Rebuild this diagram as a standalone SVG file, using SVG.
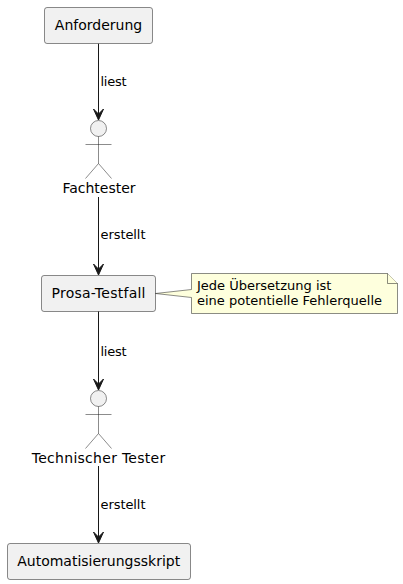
<svg xmlns="http://www.w3.org/2000/svg" width="403" height="584" viewBox="0 0 403 584">
<style>
text{font-family:"DejaVu Sans",sans-serif;fill:#000}
.n{font-size:14px;text-anchor:middle}
.l,.t{font-size:13px}
.box{fill:#F1F1F1;stroke:#181818;stroke-width:.5}
.act{fill:none;stroke:#181818;stroke-width:.5}
.edge{fill:none;stroke:#181818;stroke-width:1}
.note{fill:#FEFFDD;stroke:#181818;stroke-width:.5}
</style>
<defs>
<path id="ah" d="M0,0L5,-11L0,-6L-5,-11Z" fill="#181818" stroke="#181818"/>
</defs>
<g id="connectors">
<path class="edge" d="M98.5,43.5V114"/><use href="#ah" x="98.5" y="120"/>
<text class="l" x="100.5" y="86" textLength="26">liest</text>
<path class="edge" d="M98.5,197V269"/><use href="#ah" x="98.5" y="275"/>
<text class="l" x="100.5" y="239" textLength="45">erstellt</text>
<path class="edge" d="M98.5,311V384"/><use href="#ah" x="98.5" y="390"/>
<text class="l" x="100.5" y="356" textLength="26">liest</text>
<path class="edge" d="M98.5,466V537"/><use href="#ah" x="98.5" y="543"/>
<text class="l" x="100.5" y="509" textLength="45">erstellt</text>
</g>
<g id="anforderung">
<rect class="box" x="44.5" y="7.5" width="108" height="36" rx="2.5"/>
<text class="n" x="98.5" y="30">Anforderung</text>
</g>
<g id="fachtester">
<circle class="box" cx="98.5" cy="128.5" r="8"/>
<path class="act" d="M98.5,136.5V163.5M85.5,144.5H111.5M98.5,163.5L85.5,178.5M98.5,163.5L111.5,178.5"/>
<text class="n" x="99" y="193">Fachtester</text>
</g>
<g id="prosa-testfall">
<rect class="box" x="41.5" y="275.5" width="114" height="36" rx="2.5"/>
<text class="n" x="98.5" y="298" textLength="94">Prosa-Testfall</text>
</g>
<g id="note">
<path class="note" d="M191.5,273.5H387.5L397.5,283.5V313.5H191.5V297.5L155.5,293.5L191.5,289.5Z"/>
<path class="note" d="M387.5,273.5V283.5H397.5"/>
<text class="t" x="197" y="290">Jede Übersetzung ist</text>
<text class="t" x="197" y="305">eine potentielle Fehlerquelle</text>
</g>
<g id="technischer-tester">
<circle class="box" cx="98.5" cy="398.5" r="8"/>
<path class="act" d="M98.5,406.5V433.5M85.5,414.5H111.5M98.5,433.5L85.5,448.5M98.5,433.5L111.5,448.5"/>
<text class="n" x="98.5" y="463" textLength="133.5">Technischer Tester</text>
</g>
<g id="automatisierungsskript">
<rect class="box" x="7.5" y="543.5" width="183" height="36" rx="2.5"/>
<text class="n" x="98.7" y="566" textLength="163">Automatisierungsskript</text>
</g>
</svg>
